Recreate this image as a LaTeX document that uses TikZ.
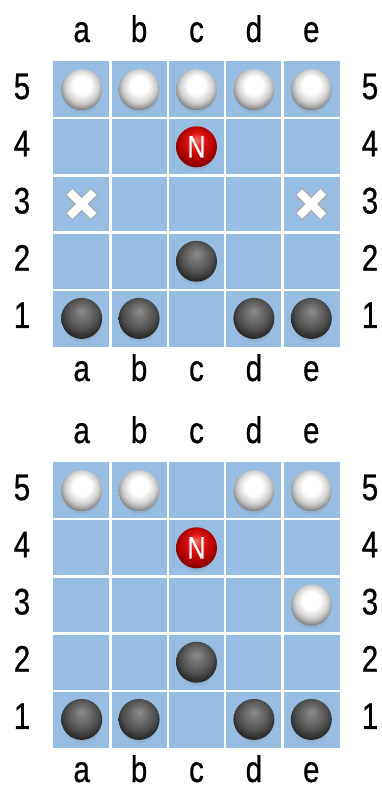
\documentclass[tikz,border=0pt]{standalone}
\usepackage{fontspec}
\setmainfont[FakeStretch=0.8,FakeBold=0.6]{Liberation Sans}
\usetikzlibrary{shadows}
\definecolor{boardblue}{RGB}{151,189,226}
\definecolor{redhi}{RGB}{245,110,100}
\definecolor{redmid}{RGB}{225,20,20}
\definecolor{reddark}{RGB}{170,0,0}
\definecolor{redrim}{RGB}{110,0,0}
\pgfdeclareradialshading{whitestone}{\pgfpoint{0bp}{7bp}}{color(0bp)=(white); color(11bp)=(white); color(20bp)=(black!18); color(26bp)=(black!42); color(30bp)=(black!65); color(50bp)=(black!65)}
\pgfdeclareradialshading{blackstone}{\pgfpoint{0bp}{9bp}}{color(0bp)=(black!45); color(8bp)=(black!55); color(20bp)=(black!70); color(28bp)=(black!85); color(34bp)=(black!95); color(50bp)=(black)}
\pgfdeclareradialshading{redstone}{\pgfpoint{0bp}{9bp}}{color(0bp)=(redhi); color(10bp)=(redmid); color(22bp)=(reddark); color(32bp)=(redrim); color(50bp)=(redrim)}
\begin{document}
\begin{tikzpicture}[x=1pt,y=-1pt]
\tikzset{
  lbl/.style={font=\fontsize{37}{37}\selectfont, anchor=base, inner sep=0pt},
  stone/.style={circle, minimum size=41pt, inner sep=0pt,
    circular drop shadow={shadow xshift=0pt, shadow yshift=-5pt, opacity=0.22, shadow scale=0.95}},
  wstone/.style={stone, shading=whitestone},
  bstone/.style={stone, shading=blackstone},
  rstone/.style={stone, shading=redstone, text=white, font=\fontsize{31}{31}\selectfont},
  gridline/.style={white, line width=2.5pt},
  crossout/.style={black!35, line width=10.5pt},
  crossin/.style={white, line width=8pt},
}
\useasboundingbox (0,0) rectangle (381,789);
\foreach \b/\oy in {1/0, 2/401} {
  % board
  \fill[boardblue] (53,61+\oy) rectangle (340,347+\oy);
  \foreach \k in {1,...,4} {
    \draw[gridline] ({53+57.4*\k},61+\oy) -- ({53+57.4*\k},347+\oy);
    \draw[gridline] (53,{61+\oy+57.2*\k}) -- (340,{61+\oy+57.2*\k});
  }
  % column labels
  \foreach \c [count=\i] in {a,b,c,d,e} {
    \node[lbl] (top\b\c) at ({53+57.4*(\i-0.5)},42+\oy) {\c};
    \node[lbl] (bot\b\c) at ({53+57.4*(\i-0.5)},381+\oy) {\c};
  }
  % row labels
  \foreach \r in {1,...,5} {
    \node[lbl] (left\b\r) at (22,{61+\oy+57.2*(5.5-\r)+9.5}) {\r};
    \node[lbl] (right\b\r) at (370,{61+\oy+57.2*(5.5-\r)+9.5}) {\r};
  }
  % black stones
  \foreach \i/\r in {3/2, 1/1, 2/1, 4/1, 5/1} {
    \node[bstone] (blk\b-\i-\r) at ({53+57.4*(\i-0.5)},{61+\oy+57.2*(5.5-\r)}) {};
  }
  % neutral stone
  \node[rstone] (neutral\b) at ({53+57.4*2.5},{61+\oy+57.2*1.5}) {N};
}
% board 1 white stones
\foreach \i in {1,...,5} {
  \node[wstone] (wht1-\i-5) at ({53+57.4*(\i-0.5)},{61+57.2*0.5}) {};
}
% board 2 white stones
\foreach \i/\r in {1/5, 2/5, 4/5, 5/5, 5/3} {
  \node[wstone] (wht2-\i-\r) at ({53+57.4*(\i-0.5)},{462+57.2*(5.5-\r)}) {};
}
% crosses on board 1 (a3, e3)
\foreach \i in {1,5} {
  \coordinate (cross\i) at ({53+57.4*(\i-0.5)},{61+57.2*2.5});
  \draw[crossout] ([shift={(-12.6,-12.6)}]cross\i) -- ([shift={(12.6,12.6)}]cross\i)
                  ([shift={(-12.6,12.6)}]cross\i) -- ([shift={(12.6,-12.6)}]cross\i);
  \draw[crossin] ([shift={(-12,-12)}]cross\i) -- ([shift={(12,12)}]cross\i)
                 ([shift={(-12,12)}]cross\i) -- ([shift={(12,-12)}]cross\i);
}
\end{tikzpicture}
\end{document}
